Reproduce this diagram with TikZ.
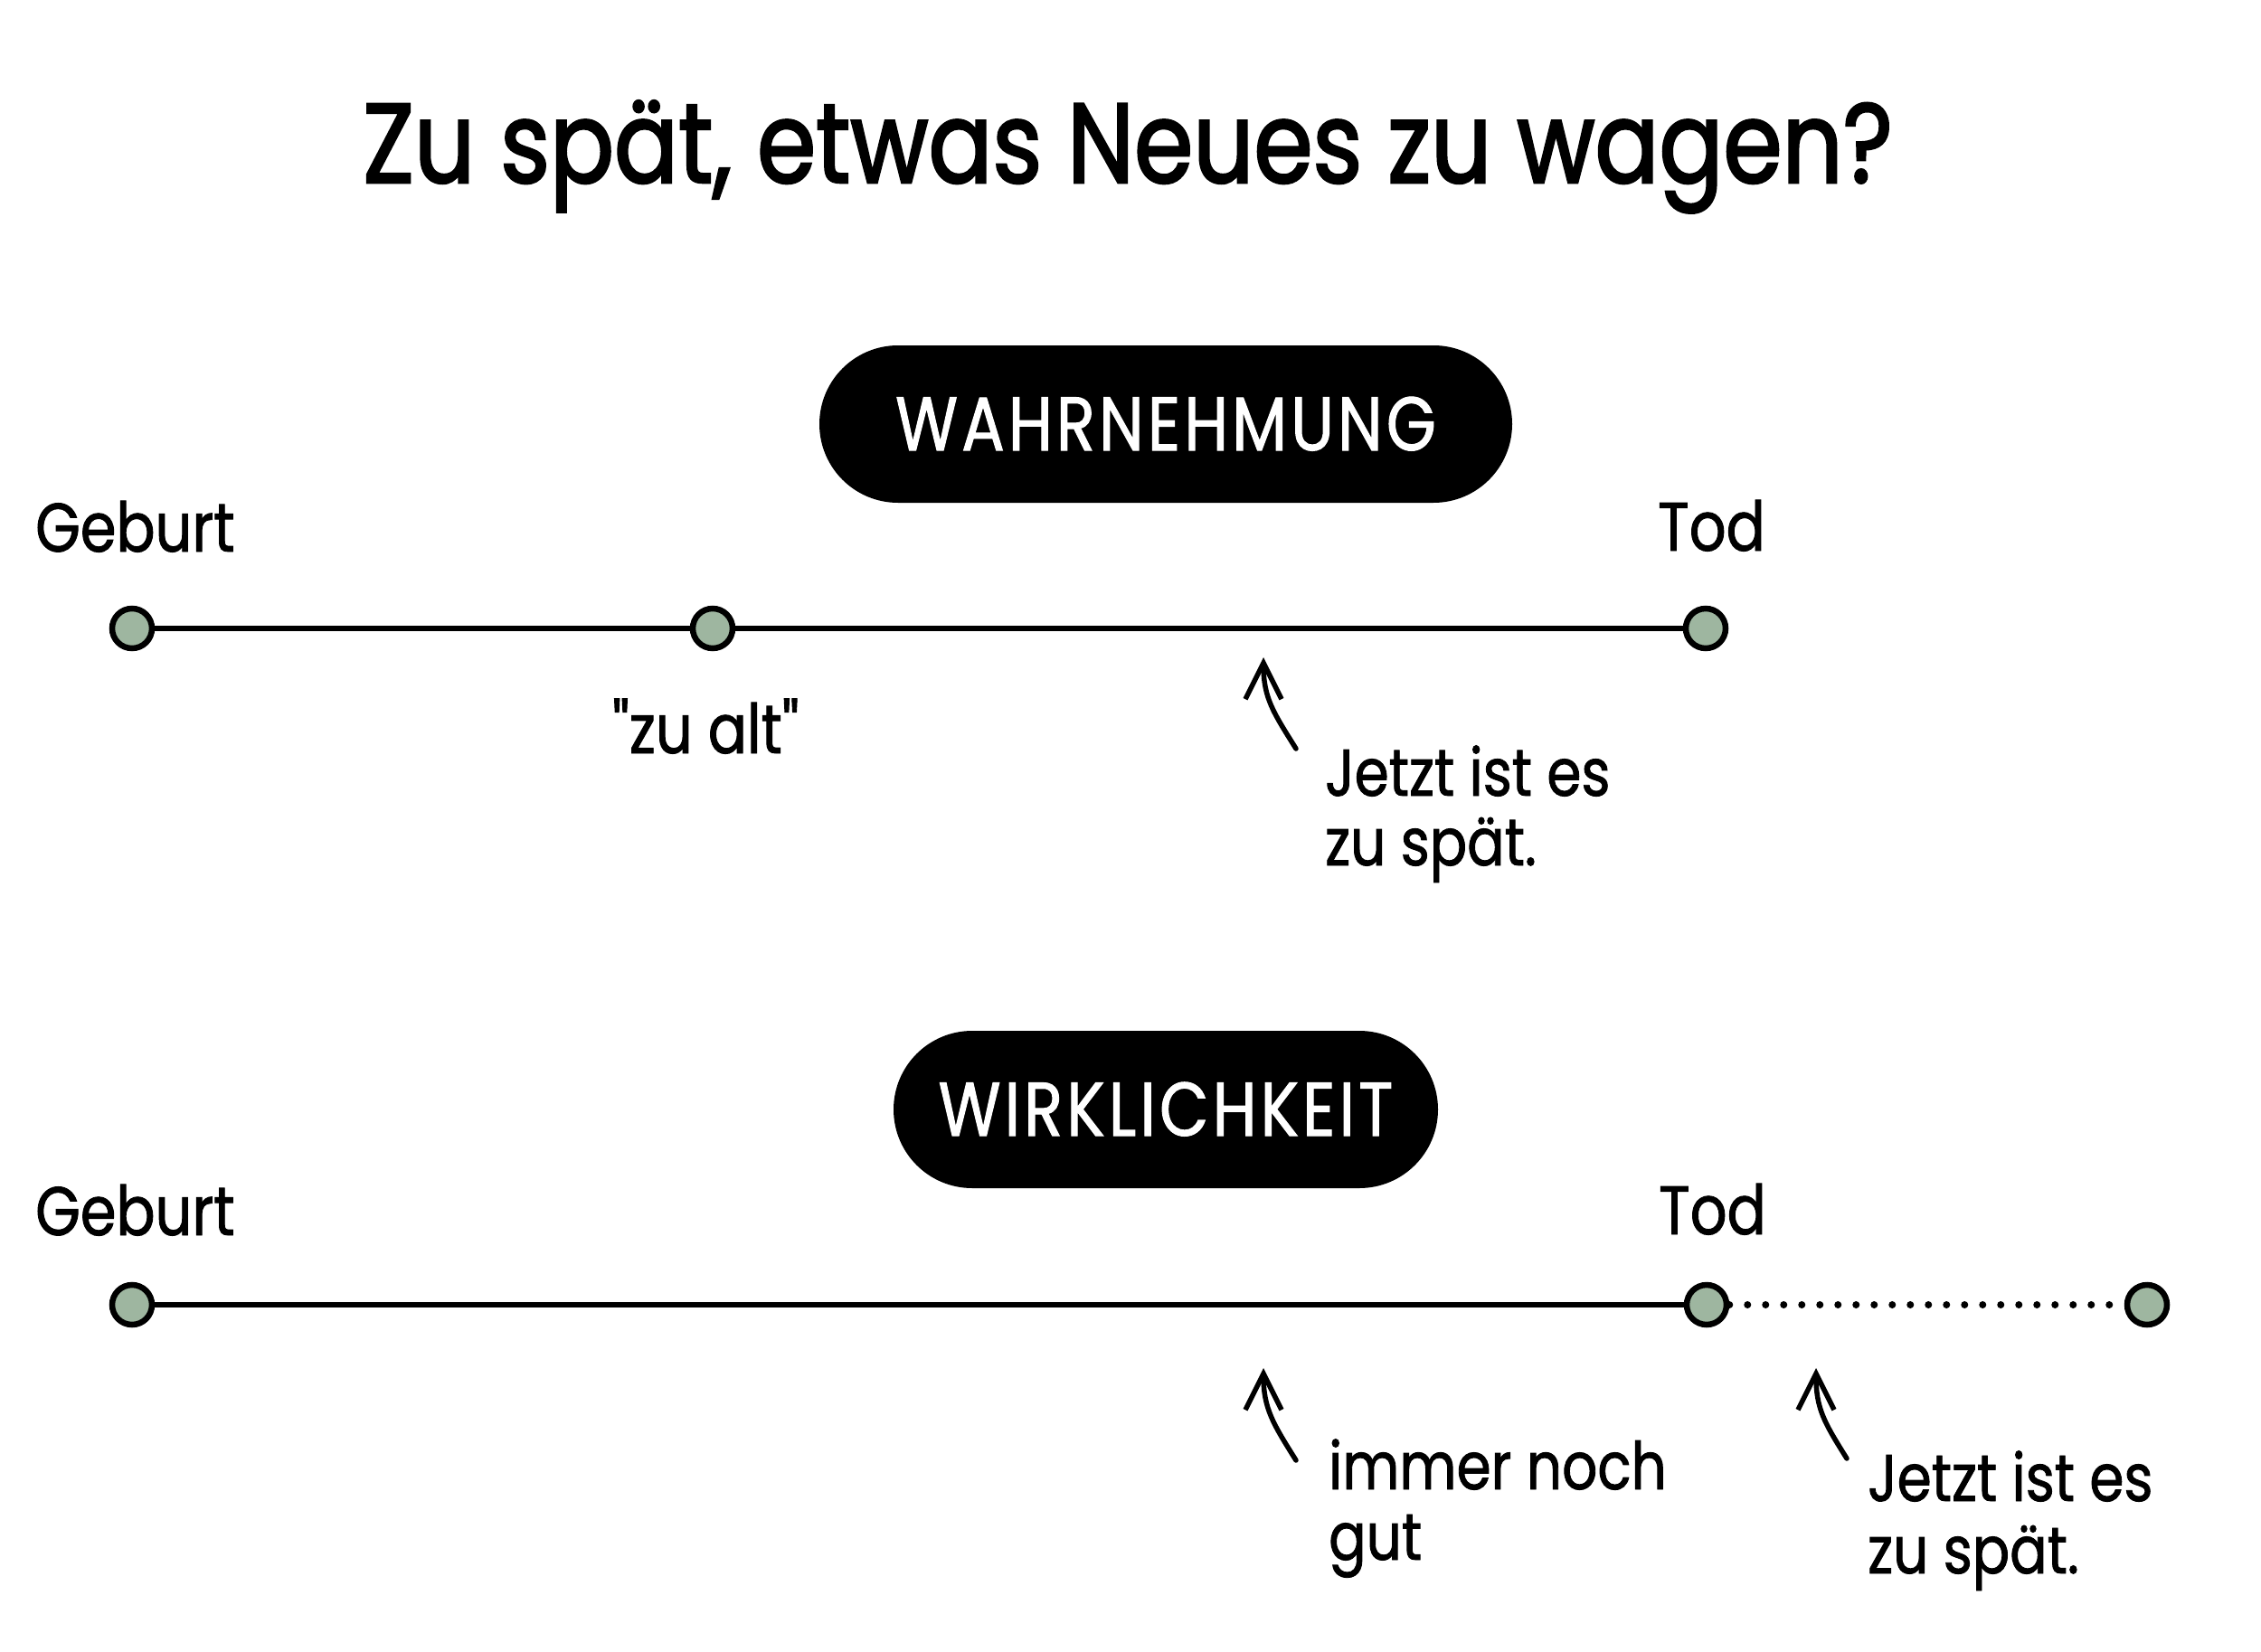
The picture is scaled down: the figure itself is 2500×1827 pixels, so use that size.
\documentclass[tikz,border=0pt]{standalone}
\usepackage{fontspec}
\setmainfont{Poppins}[FakeStretch=0.84,FakeBold=1.2,Ligatures=TeXOff]
\usetikzlibrary{arrows.meta}
\definecolor{dotgreen}{RGB}{158,182,160}
\begin{document}
\begin{tikzpicture}[x=1pt,y=-1pt,
  pt/.style={circle,draw=black,fill=dotgreen,line width=6.5pt,minimum size=44pt,inner sep=0pt},
  tl/.style={line width=6.5pt},
  dl/.style={line width=8pt,line cap=round,dash pattern=on 0pt off 20pt},
  lbl/.style={anchor=base west,inner sep=0pt,font=\fontsize{76}{77}\selectfont},
  pill/.style={fill=black,text=white,rounded corners=87pt,inner xsep=0pt,inner ysep=58pt,text height=58pt,text depth=0pt,font=\fontsize{84}{90}\selectfont\addfontfeature{LetterSpace=5}},
  arr/.style={line width=5.5pt,line cap=round,-{Straight Barb[length=40pt,width=40pt,line width=5.5pt]}},
  note/.style={anchor=base west,inner sep=0pt,font=\fontsize{73}{77}\selectfont}]
\useasboundingbox[fill=white] (0,0) rectangle (2500,1827);

\node[anchor=base,inner sep=0pt,font=\fontsize{125}{130}\selectfont\addfontfeature{FakeBold=2}] (title) at (1247,202) {Zu spät, etwas Neues zu wagen?};

% --- Wahrnehmung ---
\node[pill,minimum width=766pt] (box1) at (1289,469) {WAHRNEHMUNG};
\node[lbl] (geb1) at (39,610) {Geburt};
\node[lbl] (tod1) at (1833,609) {Tod};
\node[pt] (p1) at (146,695) {};
\node[pt] (p2) at (788,695) {};
\node[pt] (p3) at (1886,695) {};
\draw[tl] (p1) -- (p2);
\draw[tl] (p2) -- (p3);
\node[lbl] (alt) at (677,833) {"zu alt"};
\coordinate (a1s) at (1433,828);
\coordinate (a1e) at (1397,727);
\draw[arr] (a1s) .. controls +(-25,-40) and +(0,45) .. (a1e);
\node[note] (n1a) at (1465,880) {Jetzt ist es};
\node[note] (n1b) at (1465,957) {zu spät.};

% --- Wirklichkeit ---
\node[pill,minimum width=602pt] (box2) at (1289,1227) {WIRKLICHKEIT};
\node[lbl] (geb2) at (39,1366) {Geburt};
\node[lbl] (tod2) at (1834,1365) {Tod};
\node[pt] (q1) at (146,1443) {};
\node[pt] (q2) at (1887,1443) {};
\node[pt] (q3) at (2374,1443) {};
\draw[tl] (q1) -- (q2);
\draw[dl] (q2) -- (q3);
\coordinate (a2s) at (1433,1615);
\coordinate (a2e) at (1397,1513);
\draw[arr] (a2s) .. controls +(-25,-40) and +(0,45) .. (a2e);
\node[note] (n2a) at (1469,1647) {immer noch};
\node[note] (n2b) at (1469,1725) {gut};
\coordinate (a3s) at (2042,1613);
\coordinate (a3e) at (2008,1513);
\draw[arr] (a3s) .. controls +(-25,-40) and +(0,45) .. (a3e);
\node[note] (n3a) at (2065,1660) {Jetzt ist es};
\node[note] (n3b) at (2065,1740) {zu spät.};
\end{tikzpicture}
\end{document}
